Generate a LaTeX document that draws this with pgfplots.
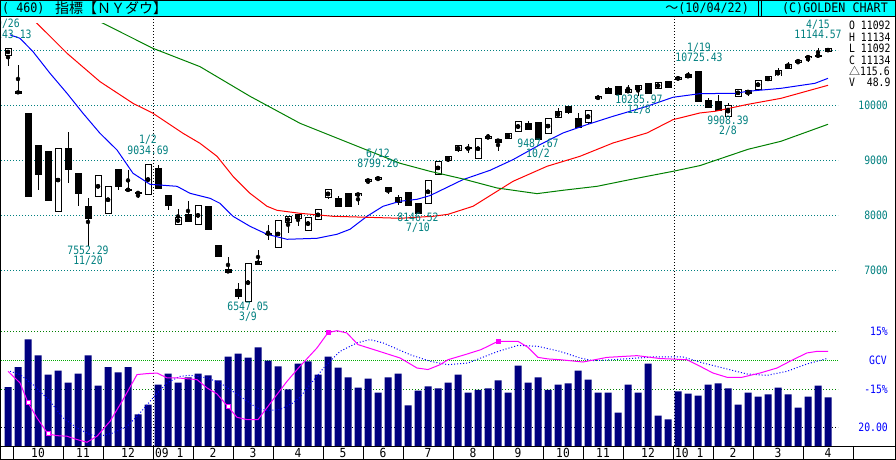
\documentclass[border=0pt]{standalone}
\usepackage{pgfplots}
\pgfplotsset{compat=1.18}
\usepackage{pgfplotstable}
\usepackage{fontspec}
\setmainfont{DejaVu Sans}
\newfontfamily\gm[FakeStretch=0.85]{DejaVu Sans Mono}
\newfontfamily\hm[FakeStretch=0.9]{DejaVu Sans Mono}
\newfontfamily\jp{Noto Sans CJK JP}
\definecolor{gteal}{RGB}{0,128,128}
\definecolor{gnavy}{RGB}{0,0,128}
\definecolor{gcyan}{RGB}{0,255,255}
\definecolor{ggreen}{RGB}{0,128,0}
\definecolor{gcv}{RGB}{0,170,0}
\definecolor{gmag}{RGB}{255,0,255}
\definecolor{gblue}{RGB}{0,0,255}
\definecolor{gred}{RGB}{255,0,0}

% weekly candles (close based), white = up weeks
\pgfplotstableread{
i O H L C
0 11016 11143 10825 11143
5 8176 9325 8176 9325
9 8443 8829 8443 8829
10 8149 8635 8149 8635
12 8564 8924 8564 8579
14 8483 9035 8483 9035
17 7949 8228 7949 8078
19 7936 8280 7936 8280
24 6547 7224 6547 7224
25 7216 7486 7216 7278
26 7776 7924 7660 7776
27 7522 8017 7522 8017
28 7975 8083 7790 8083
29 8057 8131 7920 8131
30 7841 8076 7841 8076
31 8025 8212 8016 8212
32 8426 8575 8409 8575
35 8473 8500 8300 8500
36 8721 8764 8675 8764
37 8764 8799 8739 8799
39 8339 8472 8299 8438
42 8331 8743 8331 8743
43 8848 9093 8848 9093
44 9108 9171 9070 9171
45 9286 9370 9256 9370
47 9135 9505 9135 9505
48 9509 9580 9509 9544
50 9497 9605 9497 9605
51 9626 9820 9626 9820
54 9599 9865 9599 9865
55 9885 10063 9871 9996
58 9789 10023 9771 10023
59 10227 10292 10197 10270
62 10345 10471 10345 10388
63 10390 10471 10286 10471
65 10414 10520 10414 10520
67 10583 10618 10572 10618
72 9908 10144 9908 10099
73 10268 10402 10268 10402
75 10403 10566 10396 10566
76 10552 10625 10552 10625
77 10642 10779 10642 10741
78 10785 10888 10785 10850
79 10895 10927 10857 10927
80 10973 10997 10897 10997
81 11005 11145 11005 11018
82 11092 11134 11092 11134
}\whitec

\pgfplotstableread{
i O H L C
1 10365 10851 10325 10325
2 9955 9955 8451 8451
3 9387 9387 8577 8852
4 9266 9266 8378 8378
6 9319 9625 8696 8943
7 8870 8870 8283 8497
8 8273 8425 7552 8046
11 8934 8934 8565 8629
13 8519 8519 8419 8515
15 8953 9015 8599 8599
16 8474 8474 8200 8281
18 8117 8375 8001 8001
20 8270 8270 7850 7850
21 7553 7556 7365 7365
22 7115 7350 7063 7063
23 6763 6876 6594 6627
33 8418 8469 8268 8268
34 8504 8504 8277 8277
38 8612 8612 8497 8539
40 8529 8529 8280 8280
41 8324 8324 8147 8147
46 9337 9398 9241 9321
49 9496 9496 9280 9441
52 9778 9829 9665 9665
53 9789 9789 9488 9488
56 10092 10092 9949 9972
57 9867 9962 9712 9712
60 10406 10437 10318 10318
61 10450 10464 10309 10309
64 10501 10501 10309 10328
66 10547 10548 10428 10428
68 10663 10710 10609 10609
69 10725 10725 10172 10172
70 10196 10236 10067 10067
71 10185 10296 10002 10012
74 10383 10383 10282 10325
}\blackc

\pgfplotstableread{
i V
0 61.4
1 82.2
2 110.9
3 94.3
4 74.6
5 78.7
6 66.3
7 75.6
8 94.3
9 63.2
10 82.2
11 76.7
12 82.2
13 33.2
14 43.5
15 64.2
16 75.6
17 66.3
18 71.5
19 75.6
20 73.6
21 68.4
22 93.2
23 96.3
24 92.2
25 102.6
26 89.1
27 82.9
28 59.1
29 86.0
30 88.1
31 74.6
32 93.2
33 81.8
34 71.5
35 61.1
36 70.4
37 55.9
38 71.5
39 75.6
40 42.5
41 58.0
42 62.2
43 60.1
44 66.3
45 74.6
46 55.9
47 58.7
48 60.1
49 68.4
50 55.9
51 83.9
52 66.3
53 71.5
54 58.7
55 64.2
56 65.3
57 78.7
58 69.4
59 55.9
60 55.9
61 35.2
62 64.2
63 55.9
64 86.0
65 32.1
66 28.0
67 57.0
68 54.9
69 52.8
70 64.2
71 65.3
72 60.1
73 43.5
74 55.9
75 51.8
76 53.9
77 61.1
78 53.9
79 40.4
80 51.8
81 63.2
82 50.8
}\vol

\begin{document}
\begin{tikzpicture}[x=1pt,y=1pt,
  lab/.style={font=\gm\fontsize{11.5}{12}\selectfont, inner sep=0pt, text height=8.4pt, text depth=0pt},
  dot/.style={line width=1pt, dash pattern=on 1pt off 2pt}]
\useasboundingbox (0,0) rectangle (896,460);
\fill[white] (0,0) rectangle (896,460);
% grid lines
\foreach \yy in {409.5,354.5,299.5,244.5,189.5}{\draw[dot,gteal] (1,\yy) -- (838,\yy);}
\draw[dot,ggreen] (1,128.5) -- (838,128.5);
\draw[dot,ggreen] (1,70.5) -- (838,70.5);
\draw[line width=1pt, gcv, dash pattern=on 1pt off 1pt] (1,99.5) -- (838,99.5);
\draw[dot,black] (1,32.5) -- (838,32.5);
\draw[dot,black] (153.5,14) -- (153.5,443);
\draw[dot,black] (674.5,14) -- (674.5,443);

% ---------------- volume ----------------
\begin{axis}[at={(0,14)}, anchor=south west, scale only axis, width=840pt, height=146pt,
  xmin=-0.8, xmax=83.2, ymin=0, ymax=151.3, hide axis, ybar, bar width=7pt]
\addplot[fill=gnavy, draw=none] table[x=i, y=V] {\vol};
\end{axis}

% ---------------- oscillator ----------------
\begin{axis}[at={(0,14)}, anchor=south west, scale only axis, width=840pt, height=146pt,
  xmin=-0.8, xmax=83.2, ymin=-44.49, ymax=31.04, hide axis]
\addplot[gblue, line width=1pt, dash pattern=on 1pt off 2pt] coordinates {
(0.2,0) (1.2,-1.7) (2.5,-6.9) (4.2,-15.5) (5.5,-24.1) (6.9,-29.3) (8.2,-32.8) (9.2,-33.6)
(10.5,-31.9) (11.9,-28.5) (12.9,-23.3) (14.5,-13.8) (15.9,-6.0) (17.2,-2.6) (18.2,-2.1)
(19.9,-3.4) (21.2,-6.0) (23.2,-12.9) (24.9,-19.0) (25.9,-20.3) (27.2,-19.8) (28.5,-16.4)
(29.2,-13.4) (30.2,-6.9) (31.7,2.6) (33.2,10.3) (34.9,14.7) (36.2,16.4) (37.5,14.7)
(40.2,8.6) (42.2,5.2) (44.0,3.4) (46.0,4.3) (49.0,10.3) (51.0,13.4) (53.0,12.9)
(55.2,10.3) (57.2,6.9) (58.5,5.5) (60.5,6.0) (64.5,7.4) (67.5,7.4) (69.5,4.3) (72.5,0.4)
(73.9,-1.4) (75.9,-2.1) (77.9,0) (79.9,3.8) (81.9,6.6)};
\addplot[gmag, line width=1pt] coordinates {
(0.0,0) (1.2,-6.0) (2.0,-16.2) (2.9,-24.1) (4.0,-32.4) (4.9,-33.3) (5.9,-33.6) (6.9,-35.3)
(7.9,-36.7) (8.9,-33.6) (10.2,-25.9) (11.5,-14.7) (12.9,-1.7) (13.9,-1.2) (14.9,-0.9)
(15.9,-3.4) (16.9,-3.4) (18.9,-4.3) (19.9,-8.6) (20.9,-11.7) (22.0,-18.3) (22.9,-23.8)
(23.9,-25.0) (25.0,-25.0) (26.5,-14.7) (27.9,-5.2) (29.2,2.6) (30.9,12.1) (32.0,20.0)
(32.9,21.0) (33.9,19.8) (35.0,13.8) (36.9,10.7) (39.2,6.9) (40.9,1.7) (42.0,0.9)
(43.2,3.4) (44.0,6.0) (45.7,8.6) (47.3,11.2) (49.0,15.5) (51.0,15.5) (52.0,12.4)
(53.0,7.2) (54.0,6.4) (55.2,6.0) (57.5,4.8) (59.9,7.2) (62.9,8.1) (65.2,6.6) (67.9,6.0)
(69.2,2.6) (70.5,-0.9) (71.9,-3.1) (73.4,-3.1) (75.2,-0.9) (76.9,1.7) (78.5,6.0)
(79.9,9.5) (80.9,10.3) (82.0,10.3)};
\addplot[only marks, mark=square*, mark size=2pt, gmag, mark options={fill=white, line width=1pt}]
  coordinates {(2,-16.2) (4,-32.4) (22,-18.3)};
\addplot[only marks, mark=square*, mark size=2pt, gmag] coordinates {(32,20.0) (49,15.5)};
\end{axis}

% ---------------- price ----------------
\begin{axis}[at={(0,14)}, anchor=south west, scale only axis, width=840pt, height=429pt,
  xmin=-0.8, xmax=83.2, ymin=3800, ymax=11600, hide axis, clip=true]
% wicks
\addplot[only marks, mark=none, error bars/.cd, y dir=both, y explicit, error mark=none,
  error bar style={line width=1pt, black}]
  table[x=i, y expr={(\thisrow{H}+\thisrow{L})/2}, y error expr={(\thisrow{H}-\thisrow{L})/2}] {\whitec};
\addplot[only marks, mark=none, error bars/.cd, y dir=both, y explicit, error mark=none,
  error bar style={line width=1pt, black}]
  table[x=i, y expr={(\thisrow{H}+\thisrow{L})/2}, y error expr={(\thisrow{H}-\thisrow{L})/2}] {\blackc};
% bodies
\addplot[only marks, mark=none, error bars/.cd, y dir=both, y explicit, error mark=none,
  error bar style={line width=7pt, black}]
  table[x=i, y expr={(\thisrow{O}+\thisrow{C})/2}, y error expr={abs(\thisrow{C}-\thisrow{O})/2+9}] {\blackc};
\addplot[only marks, mark=none, error bars/.cd, y dir=both, y explicit, error mark=none,
  error bar style={line width=7pt, black}]
  table[x=i, y expr={(\thisrow{O}+\thisrow{C})/2}, y error expr={abs(\thisrow{C}-\thisrow{O})/2+9}] {\whitec};
\addplot[only marks, mark=none, error bars/.cd, y dir=both, y explicit, error mark=none,
  error bar style={line width=5pt, white}]
  table[x=i, y expr={(\thisrow{O}+\thisrow{C})/2}, y error expr={max(abs(\thisrow{C}-\thisrow{O})/2-9,0)}] {\whitec};
% moving averages
\addplot[gblue, line width=1pt] coordinates {
(0.2,11390) (1.2,11327) (2.5,11085) (4.2,10691) (5.9,10327) (7.5,9964) (9.2,9600)
(10.9,9297) (12.5,8873) (14.2,8673) (16.9,8636) (18.2,8509) (20.2,8418) (21.2,8327)
(22.5,8091) (24.2,7909) (25.9,7764) (27.9,7673) (30.9,7691) (32.9,7764) (34.2,7855)
(35.9,8091) (37.5,8273) (39.2,8364) (40.9,8400) (42.2,8467) (45.5,8758) (48.2,8927)
(50.5,9121) (53.2,9394) (55.5,9606) (57.9,9758) (60.5,9909) (63.9,10091) (66.5,10255)
(69.2,10321) (72.7,10327) (74.0,10364) (77.3,10418) (80.7,10509) (82.0,10600)};
\addplot[gred, line width=1pt] coordinates {
(0,12130) (2.9,11600) (5.9,11055) (9.2,10539) (12.5,10145) (14.5,9964) (17.5,9600)
(19.2,9418) (20.9,9182) (22.5,8818) (24.2,8509) (25.9,8273) (26.9,8200) (29.2,8145)
(32.5,8091) (35.9,8073) (39.2,8055) (42.5,8091) (44.0,8127) (46.5,8273) (50.5,8727)
(53.9,9000) (57.2,9182) (60.5,9424) (63.9,9606) (66.5,9848) (69.2,9970) (70.7,10000)
(74.0,10127) (77.3,10236) (82.0,10473)};
\addplot[ggreen, line width=1pt] coordinates {
(5,12000) (9.5,11600) (12.5,11327) (14.5,11145) (19.2,10812) (24.2,10273) (29.2,9782)
(34.2,9418) (39.2,9055) (42.2,8909) (45.5,8770) (48.9,8606) (52.9,8503) (55.5,8564)
(58.9,8636) (62.2,8758) (66.5,8909) (69.2,9013) (74.0,9309) (77.3,9455) (82.0,9764)};
\end{axis}

% ---------------- candle labels ----------------
\begin{scope}[every node/.style={lab, text=gteal, anchor=center}]
\node at (8,437) {9/26};      \node at (8,426) {11143.13};
\node at (148,321) {1/2};     \node at (148,310) {9034.69};
\node at (88,210) {7552.29};  \node at (88,200) {11/20};
\node at (248,154) {6547.05}; \node at (248,144) {3/9};
\node at (378,307) {6/12};    \node at (378,297) {8799.26};
\node at (418,243) {8146.52}; \node at (418,233) {7/10};
\node at (538,317) {9487.67}; \node at (538,307) {10/2};
\node at (639,361) {10285.97};\node at (639,351) {12/8};
\node at (699,413) {1/19};    \node at (699,403) {10725.43};
\node at (728,340) {9908.39}; \node at (728,330) {2/8};
\node at (818,436) {4/15};    \node at (818,426) {11144.57};
\end{scope}

% right scale labels
\begin{scope}[every node/.style={lab, text=gteal, anchor=east}]
\node at (888,355) {10000};
\node at (888,300) {9000};
\node at (888,245) {8000};
\node at (888,190) {7000};
\end{scope}
\begin{scope}[every node/.style={lab, text=black, anchor=west}]
\node at (849,435) {O 11092};
\node at (849,423) {H 11134};
\node at (849,412) {L 11092};
\node at (849,400) {C 11134};
\node at (849,389) {{\jp\fontsize{11}{12}\selectfont △}115.6};
\node at (849,378) {V\ \ 48.9};
\end{scope}
\begin{scope}[every node/.style={lab, text=gblue, anchor=east}]
\node at (888,129) {15\%};
\node at (887,100) {GCV};
\node at (888,71) {-15\%};
\node at (888,33) {20.00};
\end{scope}

% ---------------- header ----------------
\fill[gcyan] (0,443) rectangle (896,460);
\draw[line width=1pt] (0,443.5) -- (896,443.5);
\draw[line width=1pt] (758.5,443) -- (758.5,460);
\draw[line width=1pt] (761.5,443) -- (761.5,460);
\node[anchor=west, inner sep=0pt, font=\hm\fontsize{13}{14}\selectfont] at (2,451.5) {( 460)};
\node[anchor=west, inner sep=0pt, font=\jp\fontsize{14}{15}\selectfont] at (55,451.5) {指標【ＮＹダウ】};
\node[anchor=east, inner sep=0pt] at (749,451.5) {{\jp\fontsize{13}{14}\selectfont ～}{\hm\fontsize{13}{14}\selectfont (10/04/22)}};
\node[anchor=east, inner sep=0pt, font=\hm\fontsize{13}{14}\selectfont] at (888,451.5) {(C)GOLDEN CHART};

% ---------------- bottom month row ----------------
\fill[white] (0,0) rectangle (896,14);
\draw[line width=1pt] (0,13.5) -- (896,13.5);
\draw[line width=1pt] (0,0.5) -- (896,0.5);
\foreach \xx in {13,63,103,153,193,233,273,323,363,403,453,493,543,583,623,673,713,753,803,853}
  {\draw[line width=1pt] (\xx+0.5,0) -- (\xx+0.5,14);}
\begin{scope}[every node/.style={font=\hm\fontsize{12.5}{13}\selectfont, inner sep=0pt, text height=8.8pt, text depth=0pt, anchor=center}]
\node at (38,6.5) {10};  \node at (83,6.5) {11};  \node at (128,6.5) {12};
\node[anchor=west] at (155,6.5) {09}; \node at (180,6.5) {1};
\node at (213,6.5) {2};  \node at (253,6.5) {3};  \node at (298,6.5) {4};
\node at (343,6.5) {5};  \node at (383,6.5) {6};  \node at (428,6.5) {7};
\node at (473,6.5) {8};  \node at (518,6.5) {9};  \node at (563,6.5) {10};
\node at (603,6.5) {11}; \node at (648,6.5) {12};
\node[anchor=west] at (675,6.5) {10}; \node at (700,6.5) {1};
\node at (733,6.5) {2};  \node at (778,6.5) {3};  \node at (828,6.5) {4};
\end{scope}

% outer frame
\draw[line width=1pt] (0.5,0.5) rectangle (895.5,459.5);
\end{tikzpicture}
\end{document}
